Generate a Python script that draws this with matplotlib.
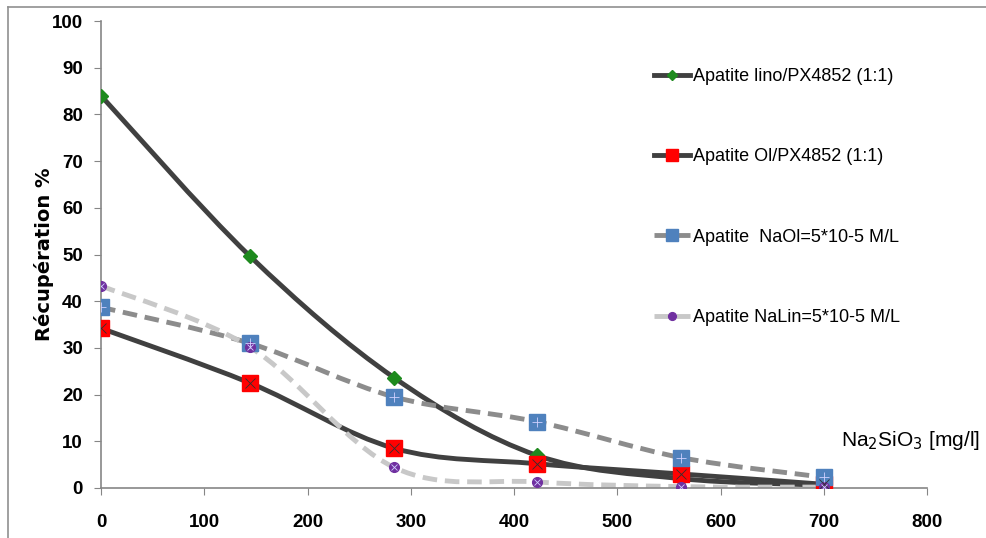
import matplotlib
matplotlib.use("Agg")
import matplotlib.pyplot as plt
import numpy as np
from matplotlib.path import Path
from matplotlib.patches import PathPatch
from matplotlib.lines import Line2D

# data
dose = [0, 144, 284, 422, 562, 700]
lino_px = [84.0, 49.7, 23.6, 7.0, 2.0, 0.6]
ol_px = [34.2, 22.5, 8.5, 5.2, 3.0, 0.8]
naol = [38.7, 31.0, 19.5, 14.2, 6.5, 2.3]
nalin = [43.3, 30.2, 4.4, 1.3, 0.3, 0.2]

labels = ["Apatite lino/PX4852 (1:1)", "Apatite Ol/PX4852 (1:1)",
          "Apatite  NaOl=5*10-5 M/L", "Apatite NaLin=5*10-5 M/L"]

plt.rcParams["font.family"] = ["Liberation Sans", "DejaVu Sans"]

fig = plt.figure(figsize=(9.86, 5.38), dpi=100)
ax = fig.add_axes([101/986, 1-488/538, (927-101)/986, (488-21)/538])


def smooth_path(x, y):
    # excel-like smoothed line: cubic bezier through the points
    p = np.column_stack([x, y]).astype(float)
    verts = [p[0]]
    codes = [Path.MOVETO]
    n = len(p)
    for i in range(n-1):
        p0 = p[max(i-1, 0)]
        p3 = p[min(i+2, n-1)]
        c1 = p[i] + (p[i+1]-p0)/6
        c2 = p[i+1] - (p3-p[i])/6
        verts += [c1, c2, p[i+1]]
        codes += [Path.CURVE4]*3
    return Path(verts, codes)


styles = [
    (lino_px, "#404040", "-", "D", "#1e8a1e", 7),
    (ol_px, "#404040", "-", "s", "#ff0000", 11),
    (naol, "#8c8c8c", (0, (3, 1.6)), "s", "#4f81bd", 11),
    (nalin, "#c8c8c8", (0, (3, 1.6)), "o", "#7030a0", 7),
]

handles = []
for (vals, lc, ls, mk, mc, ms), lab in zip(styles, labels):
    patch = PathPatch(smooth_path(dose, vals), fill=False, edgecolor=lc,
                      linewidth=3.5, linestyle=ls, zorder=2, capstyle="butt")
    ax.add_patch(patch)
    ax.plot(dose, vals, linestyle="none", marker=mk, markersize=ms,
            markerfacecolor=mc, markeredgecolor=mc, zorder=3)
    if mk != "D":
        xm = "x" if mk != "s" or mc == "#ff0000" else "+"
        ax.plot(dose, vals, linestyle="none", marker=xm, markersize=ms*0.7,
                markeredgecolor="#303030" if mc == "#ff0000" else "#d0d0ff",
                markeredgewidth=0.6, zorder=4)
    handles.append(Line2D([0], [0], color=lc, linewidth=3.5, linestyle=ls,
                          marker=mk, markersize=ms*0.8, markerfacecolor=mc,
                          markeredgecolor=mc))

ax.set_xlim(0, 800)
ax.set_ylim(0, 100)
ax.set_xticks(range(0, 801, 100))
ax.set_yticks(range(0, 101, 10))
for s in ["top", "right"]:
    ax.spines[s].set_visible(False)
for s in ["left", "bottom"]:
    ax.spines[s].set_color("#868686")
    ax.spines[s].set_linewidth(1.2)
ax.tick_params(direction="out", length=5, color="#868686", labelsize=13.5, pad=8)
for t in ax.get_xticklabels() + ax.get_yticklabels():
    t.set_fontweight("bold")
ax.tick_params(axis="x", pad=14)

ax.set_ylabel("Récupération %", fontsize=14, fontweight="bold",
              family=["DejaVu Sans"])
ax.yaxis.set_label_coords(-47/826, 0.5)
fig.text(980/986, 1-441/538, "Na$_2$SiO$_3$ [mg/l]", fontsize=15,
         ha="right", va="center")

leg = ax.legend(handles, labels, loc="upper left",
                bbox_to_anchor=(638/986, 1-52/538), bbox_transform=fig.transFigure,
                frameon=False, fontsize=13, handlelength=2.0, handletextpad=0.15,
                labelspacing=3.5)

fig.add_artist(Line2D([8/986, 8/986], [0, 1-7/538], color="#909090", lw=1.2))
fig.add_artist(Line2D([8/986, 1], [1-7/538, 1-7/538], color="#909090", lw=1.2))

fig.savefig("out.png", dpi=100)
